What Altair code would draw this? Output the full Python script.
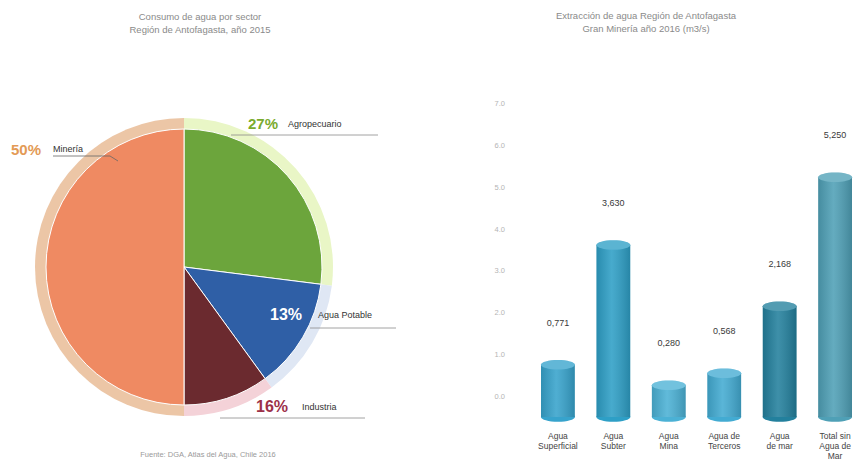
import altair as alt
import pandas as pd

# ---------------- data ----------------
sectors = ["Agropecuario", "Agua Potable", "Industria", "Minería"]
slice_share = [27, 13, 10, 50]          # drawn share of each slice (as in the picture)
pct_labels = ["27%", "13%", "16%", "50%"]  # printed labels

sources = ["Agua Superficial", "Agua Subter", "Agua Mina",
           "Agua de Terceros", "Agua de mar", "Total sin Agua de Mar"]
source_lines = ["Agua\nSuperficial", "Agua\nSubter", "Agua\nMina",
                "Agua de\nTerceros", "Agua\nde mar", "Total sin\nAgua de\nMar"]
flows = [0.771, 3.630, 0.280, 0.568, 2.168, 5.250]
flow_text = ["0,771", "3,630", "0,280", "0,568", "2,168", "5,250"]
y_ticks = [0, 1, 2, 3, 4, 5, 6, 7]

# ---------------- styling ----------------
FONT = "Liberation Sans"
W, H = 848, 452
pie_colors = ["#6ca53c", "#2f5fa6", "#6b2a2f", "#ef8a62"]
halo_colors = ["#e9f6c6", "#dfe7f4", "#f4d2d8", "#ecc6a6"]
bar_colors = ["#37a3cc", "#2e9fc6", "#4bb1d5", "#43abd2", "#23809d", "#4fa0b6"]
BASE = -0.48   # cylinders are drawn a little below the 0.0 line, as in the original

pie_df = pd.DataFrame({"sector": sectors, "share": slice_share,
                       "pct": pct_labels, "ord": list(range(len(sectors)))})
bar_df = pd.DataFrame({"source": sources, "flow": flows,
                       "flow_text": flow_text, "label": source_lines})
tick_df = pd.DataFrame({"v": y_ticks, "t": [f"{v:.1f}" for v in y_ticks]})
one = pd.DataFrame({"k": [0]})

CX, CY, R = 176, 259, 138

xs = alt.Scale(domain=sources, range=[533, 844], paddingInner=0.39, paddingOuter=0)
ys = alt.Scale(domain=[0, 7], range=[389, 96])
X = alt.X("source:N", scale=xs, axis=None, sort=sources)
Y = alt.Y("flow:Q", scale=ys, axis=None, stack=None)

# ---------------- pie ----------------
halo = alt.Chart(pie_df).mark_arc(radius=R + 11).encode(
    theta=alt.Theta("share:Q", stack=True),
    order=alt.Order("ord:Q"),
    color=alt.Color("sector:N", scale=alt.Scale(domain=sectors, range=halo_colors), legend=None),
    x=alt.value(CX), y=alt.value(CY),
)
pie = alt.Chart(pie_df).mark_arc(radius=R, stroke="white", strokeWidth=1).encode(
    theta=alt.Theta("share:Q", stack=True),
    order=alt.Order("ord:Q"),
    color=alt.Color("sector:N", scale=alt.Scale(domain=sectors, range=pie_colors), legend=None),
    x=alt.value(CX), y=alt.value(CY),
)


def pct_text(sector, x, y, color, size=15):
    return alt.Chart(pie_df).transform_filter(alt.datum.sector == sector).mark_text(
        font=FONT, fontSize=size, fontWeight="bold", color=color, align="left", baseline="middle"
    ).encode(x=alt.value(x), y=alt.value(y), text="pct:N")


def name_text(sector, x, y):
    return alt.Chart(pie_df).transform_filter(alt.datum.sector == sector).mark_text(
        font=FONT, fontSize=9, color="#333333", align="left", baseline="middle"
    ).encode(x=alt.value(x), y=alt.value(y), text="sector:N")


def rule(x1, x2, y, color="#8a8a8a"):
    return alt.Chart(one).mark_rule(color=color, strokeWidth=0.8).encode(
        x=alt.value(x1), x2=alt.value(x2), y=alt.value(y))


pie_labels = [
    pct_text("Minería", 3, 142, "#e39a55"), name_text("Minería", 45, 141),
    rule(45, 102, 148, "#666666"),
    alt.Chart(one).mark_rule(color="#666666", strokeWidth=0.8).encode(
        x=alt.value(102), x2=alt.value(110), y=alt.value(148), y2=alt.value(153)),
    pct_text("Agropecuario", 240, 116, "#7aab2e"), name_text("Agropecuario", 280, 116),
    rule(223, 370, 127),
    pct_text("Agua Potable", 262, 307, "#ffffff", 16), name_text("Agua Potable", 310, 307),
    rule(302, 388, 320),
    pct_text("Industria", 248, 399, "#9c3048", 16), name_text("Industria", 294, 399),
    rule(212, 357, 410),
]

# ---------------- bars ----------------
ELLIPSE = "M -1 0 A 1 0.28 0 1 1 1 0 A 1 0.28 0 1 1 -1 0 Z"
BW = 34
bar_color = alt.Color("source:N", scale=alt.Scale(domain=sources, range=bar_colors), legend=None)
Y2 = alt.Y2(datum=BASE)

bottom_cap = alt.Chart(bar_df).mark_point(shape=ELLIPSE, filled=True, size=BW * BW, opacity=1, strokeWidth=0).encode(
    x=X, y=alt.Y(datum=BASE, scale=ys, axis=None), color=bar_color)
bars = alt.Chart(bar_df).mark_bar().encode(x=X, y=Y, y2=Y2, color=bar_color)
shade = alt.Chart(bar_df).mark_bar(color=alt.Gradient(
    gradient="linear", x1=0, x2=1, y1=0, y2=0,
    stops=[alt.GradientStop(color="rgba(0,0,0,0.12)", offset=0),
           alt.GradientStop(color="rgba(255,255,255,0.12)", offset=0.45),
           alt.GradientStop(color="rgba(0,0,0,0.16)", offset=1)])).encode(x=X, y=Y, y2=Y2)
top_cap = alt.Chart(bar_df).mark_point(shape=ELLIPSE, filled=True, size=BW * BW, opacity=1, strokeWidth=0).encode(
    x=X, y=Y, color=bar_color)
top_light = alt.Chart(bar_df).mark_point(shape=ELLIPSE, filled=True, size=BW * BW, opacity=0.22,
                                         color="white", strokeWidth=0).encode(x=X, y=Y)
values = alt.Chart(bar_df).mark_text(font=FONT, fontSize=9, color="#3a3a3a", dy=-42, baseline="middle").encode(
    x=X, y=Y, text="flow_text:N")
xlabels = alt.Chart(bar_df).mark_text(font=FONT, fontSize=8.5, color="#444444", lineBreak="\n",
                                      lineHeight=10, baseline="top").encode(
    x=X, y=alt.value(424), text="label:N")
ylabels = alt.Chart(tick_df).mark_text(font=FONT, fontSize=7.5, color="#b5b5b5", align="right",
                                       baseline="middle").encode(
    x=alt.value(497), y=alt.Y("v:Q", scale=ys, axis=None), text="t:N")


# ---------------- titles ----------------
def note(text, x, y, size=9.5, color="#8a8a8a"):
    return alt.Chart(one).mark_text(text=text, font=FONT, fontSize=size, color=color,
                                    align="center", baseline="middle").encode(
        x=alt.value(x), y=alt.value(y))


titles = [
    note("Consumo de agua por sector", 192, 9),
    note("Región de Antofagasta, año 2015", 192, 22),
    note("Extracción de agua Región de Antofagasta", 638, 8),
    note("Gran Minería año 2016 (m3/s)", 638, 21),
    note("Fuente: DGA, Atlas del Agua, Chile 2016", 200, 447, size=7.5, color="#9a9a9a"),
]

chart = alt.layer(
    halo, pie, *pie_labels,
    bottom_cap, bars, shade, top_cap, top_light, values, xlabels, ylabels,
    *titles,
).resolve_scale(color="independent").properties(
    width=W, height=H, padding=0, autosize=alt.AutoSizeParams(type="none"),
    background="white",
).configure_view(stroke=None)

chart.save("out.html", embed_options={"renderer": "svg", "actions": False})
